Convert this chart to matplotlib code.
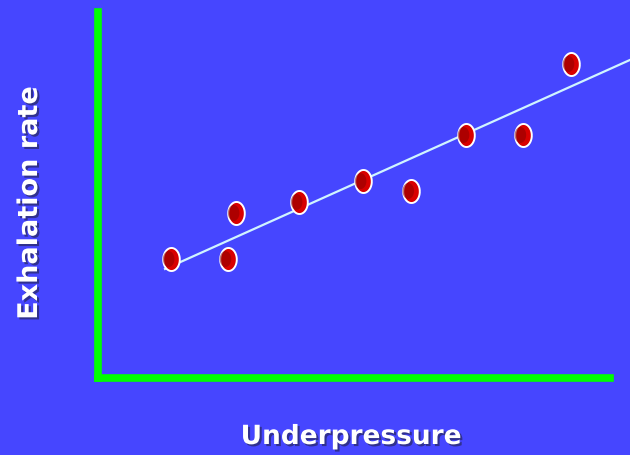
import matplotlib
matplotlib.use("Agg")
import matplotlib.pyplot as plt
import matplotlib.patheffects as pe
import numpy as np
from matplotlib.path import Path

# data (arbitrary units, 0..10 on both axes)
underpressure = [1.43, 2.54, 2.70, 3.93, 5.18, 6.11, 7.19, 8.30, 9.24]
exhalation = [3.25, 3.25, 4.51, 4.81, 5.38, 5.11, 6.64, 6.64, 8.58]
fit_x = [1.31, 10.39]
fit_y = [2.98, 8.69]

bg = "#4646FF"
fig = plt.figure(figsize=(6.3, 4.55), dpi=100)
fig.patch.set_facecolor(bg)
ax = fig.add_axes([98 / 630, 77 / 455, 512 / 630, 366 / 455])
ax.set_facecolor(bg)
ax.set_xlim(0, 10)
ax.set_ylim(0, 10)

for s in ["top", "right"]:
    ax.spines[s].set_visible(False)
for s in ["left", "bottom"]:
    ax.spines[s].set_color("#00FF00")
    ax.spines[s].set_linewidth(5.5)
    ax.spines[s].set_capstyle("projecting")
ax.set_xticks([])
ax.set_yticks([])

ax.plot(fit_x, fit_y, color="#D0F4FF", lw=1.6, clip_on=False, zorder=2)

# oval marker
t = np.linspace(0, 2 * np.pi, 60)
oval = Path(np.column_stack([0.72 * np.cos(t), np.sin(t)]))
ax.scatter(underpressure, exhalation, marker=oval, s=23 ** 2 * 0.52,
           facecolor="#D80000", edgecolor="white", linewidth=1.4, zorder=3)
# darker left shading to mimic gradient
ax.scatter(np.array(underpressure) - 0.05, exhalation, marker=oval,
           s=23 ** 2 * 0.25, facecolor="#8A0000", edgecolor="none",
           alpha=0.55, zorder=4)

shadow = [pe.withSimplePatchShadow(offset=(1.5, -1.5), shadow_rgbFace="#222244", alpha=0.6)]
fig.text(351 / 630, 1 - 437 / 455, "Underpressure", color="white", fontsize=19,
         fontweight="bold", ha="center", va="center", path_effects=shadow)
fig.text(30 / 630, 1 - 203 / 455, "Exhalation rate", color="white", fontsize=19.5,
         fontweight="bold", ha="center", va="center", rotation=90, path_effects=shadow)

fig.savefig("out.png", dpi=100, facecolor=bg)
